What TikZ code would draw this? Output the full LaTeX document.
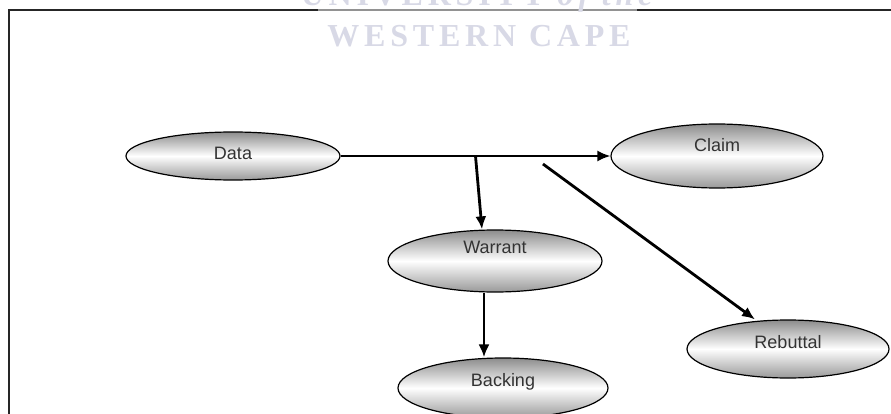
\documentclass[tikz,border=0pt]{standalone}
\usepackage{fontspec}
\setmainfont{Liberation Sans}
\newfontfamily\wmfont[LetterSpace=15]{Liberation Serif}
\usepackage{tikz}
\usetikzlibrary{shapes,arrows,arrows.meta,positioning,calc}
\definecolor{wmgray}{HTML}{D8D9E6}

\begin{document}
\begin{tikzpicture}[x=1pt, y=-1pt,
    elem/.style={draw=black, line width=1.2pt, ellipse, top color=black!45, bottom color=black!40, middle color=white, text=black!80, font=\fontsize{18}{20}\selectfont, inner sep=0pt, text height=13pt},
    link/.style={-{Latex[length=13pt,width=11pt]}, line width=2.8pt}]
    \useasboundingbox (0,0) rectangle (891,414);
    \clip (0,0) rectangle (891,414);
    % frame and watermark
    \draw[line width=2pt, black!85] (8.5,414) -- (8.5,10.5) -- (891,10.5);
    \fill[white, opacity=0.5] (318,0) rectangle (637,52);
    \node[text=wmgray, font=\wmfont\bfseries\fontsize{32}{32}\selectfont, anchor=base, inner sep=0pt] (wmtop) at (479,6) {UNIVERSITY \textit{of the}};
    \node[text=wmgray, font=\wmfont\bfseries\fontsize{32}{32}\selectfont, anchor=base, inner sep=0pt] (wmbot) at (479,47) {WESTERN CAPE};
    % the six parts
    \node[elem, minimum width=214pt, minimum height=48pt, text depth=6pt] (data) at (233,156) {Data};
    \node[elem, minimum width=212pt, minimum height=64pt, text depth=22pt] (claim) at (717,156) {Claim};
    \node[elem, minimum width=214pt, minimum height=62pt, text depth=28pt] (warrant) at (495,261) {Warrant};
    \node[elem, minimum width=210pt, minimum height=60pt, text depth=16pt] (backing) at (503,388) {Backing};
    \node[elem, minimum width=202pt, minimum height=58pt, text depth=14pt] (rebuttal) at (788,349) {Rebuttal};
    \coordinate (wfork) at ($(data.east)!0.5!(claim.west)$);
    \coordinate (rfork) at ($(data.east)!0.75!(claim.west)+(0,8)$);
    \draw[link, line width=2pt] (data.east) -- (claim.west);
    \draw[link] (wfork) -- ($(warrant.north)+(-13,0)$);
    \draw[link] ($(warrant.south)+(-11,0)$) -- ($(backing.north)+(-19,0)$);
    \draw[link] (rfork) -- ($(rebuttal.north)+(-33,0)$);
\end{tikzpicture}
\end{document}
